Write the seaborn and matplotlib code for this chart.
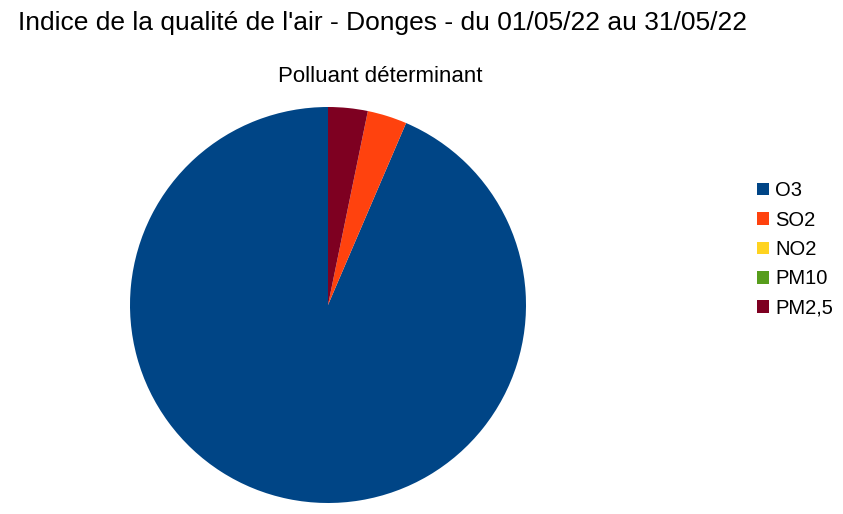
import matplotlib
matplotlib.use("Agg")
import matplotlib.pyplot as plt
import matplotlib.patches as mpatches
import seaborn as sns

# ── Data ─────────────────────────────────────────────────────────────────────
POLLUTANTS = ["O3", "SO2", "NO2", "PM10", "PM2,5"]
DAYS       = [29, 1, 0, 0, 1]          # jours où le polluant est déterminant
COLORS     = ["#004586", "#ff420e", "#ffd320", "#579d1c", "#7e0021"]

TITLE    = "Indice de la qualité de l'air - Donges - du 01/05/22 au 31/05/22"
SUBTITLE = "Polluant déterminant"

# ── Styling ──────────────────────────────────────────────────────────────────
sns.set_theme(style="white")
plt.rcParams["font.family"] = ["Liberation Sans", "DejaVu Sans"]
plt.rcParams["text.color"] = "black"

W, H = 843, 514
fig = plt.figure(figsize=(W / 100, H / 100), dpi=100)

# pie axes: centre (328, 305) px, radius 198 px
cx, cy, r = 328, 305, 198
ax = fig.add_axes([(cx - r) / W, (H - cy - r) / H, 2 * r / W, 2 * r / H])
ax.pie(DAYS, colors=COLORS, startangle=90, counterclock=True,
       wedgeprops=dict(linewidth=0), radius=1)
ax.set_xlim(-1, 1)
ax.set_ylim(-1, 1)
ax.axis("off")

fig.text(18 / W, 1 - 23 / H, TITLE, fontsize=19, ha="left", va="center")
fig.text(380 / W, 1 - 77 / H, SUBTITLE, fontsize=16, ha="center", va="center")

handles = [mpatches.Patch(facecolor=c, edgecolor="none", label=p)
           for p, c in zip(POLLUTANTS, COLORS)]
fig.legend(handles=handles, loc="upper left",
           bbox_to_anchor=(747 / W, 1 - 171 / H), frameon=False,
           fontsize=14.5, handlelength=0.6, handleheight=0.6,
           handletextpad=0.3, labelspacing=0.52, borderpad=0)

fig.savefig("out.png", dpi=100, facecolor="white")
